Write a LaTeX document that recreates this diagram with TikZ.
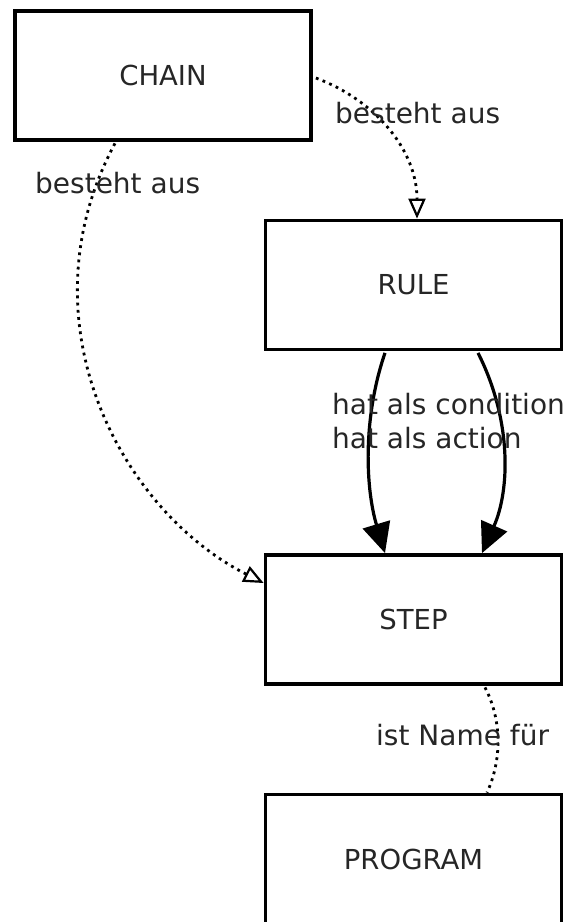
\documentclass[tikz,border=0pt]{standalone}
\usepackage{fontspec}
\setmainfont{DejaVu Sans}
\usetikzlibrary{arrows.meta,calc}
\begin{document}
\begin{tikzpicture}[x=1pt,y=-1pt,
  entity/.style={draw, line width=3.8pt, minimum width=296pt, minimum height=129pt,
    inner sep=0pt, font=\fontsize{27.5}{32}\selectfont, text=black!85},
  dotline/.style={line width=2.8pt, dash pattern=on 2.8pt off 4.4pt},
  openhead/.style={-{Triangle[open,length=20pt,width=17pt,line width=2.2pt]}},
  solidarrow/.style={line width=3.2pt, -{Triangle[length=30pt,width=28pt]}},
  lbl/.style={font=\fontsize{28}{32}\selectfont, text=black!85, inner sep=0pt, anchor=base west}]
\useasboundingbox (0,0) rectangle (570,922);

% entities
\node[entity] (CHAIN) at (163,75.5) {CHAIN};
\node[entity] (RULE) at (413.5,285) {RULE};
\node[entity] (STEP) at (413.5,619.5) {STEP};
\node[entity] (PROGRAM) at (413.5,859) {PROGRAM};

% CHAIN consists of RULE
\draw[dotline, openhead] ($(CHAIN.east)+(3,2.5)$) .. controls (375,100) and (417,150) .. ($(RULE.north)+(3.5,0)$);
\node[lbl] (l1) at (335,123) {besteht aus};

% CHAIN consists of STEP
\draw[dotline, openhead] ($(CHAIN.south)+(-48,1.5)$) .. controls (20,320) and (120,510) .. ($(STEP.west)+(0,-36.5)$);
\node[lbl] (l2) at (35,193) {besteht aus};

% RULE has condition / action
\draw[solidarrow] ($(RULE.south)+(-28.5,1.5)$) .. controls (362,420) and (366,490) .. ($(STEP.north)+(-28.5,0)$);
\draw[solidarrow] ($(RULE.south)+(64.5,1.5)$) .. controls (512,420) and (510,490) .. ($(STEP.north)+(68.5,0)$);
\node[lbl] (l3) at (332,414) {hat als condition};
\node[lbl] (l4) at (332,448) {hat als action};

% STEP is name for PROGRAM
\draw[dotline] ($(STEP.south)+(71.5,1.5)$) .. controls (502,720) and (502,760) .. ($(PROGRAM.north)+(73.5,0)$);
\node[lbl] (l5) at (376,745) {ist Name für};
\end{tikzpicture}
\end{document}
